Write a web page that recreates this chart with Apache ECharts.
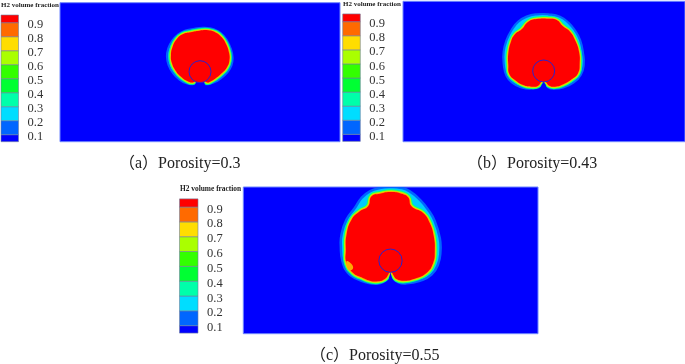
<!DOCTYPE html>
<html><head><meta charset="utf-8">
<style>html,body{margin:0;background:#fff}#main{width:685px;height:364px;filter:blur(0.6px)}</style>
<script src="https://cdn.jsdelivr.net/npm/echarts@6/dist/echarts.min.js"></script>
</head><body><div id="main"></div>
<script>
// colour bar
const tickLabels = [0.1,0.2,0.3,0.4,0.5,0.6,0.7,0.8,0.9];
const bandLow  = [0.05,0.1,0.2,0.3,0.4,0.5,0.6,0.7,0.8,0.9];
const bandHigh = [0.1,0.2,0.3,0.4,0.5,0.6,0.7,0.8,0.9,0.955];
const bandColors = ['#0000ff','#0066ff','#00ddff','#00ffaa','#00ff33','#33ff00','#aaff00','#ffdd00','#ff6a00','#ff0000'];

// H2 front outlines (domain units)
const redA = [[600,240],[590,238],[580,247],[562,243],[543,230],[527,212],[516,190],[513,165],[518,140],[530,118],[548,103],[572,97],[598,92],[625,91],[648,98],[665,112],[678,132],[687,158],[688,182],[680,203],[665,220],[648,234],[630,245],[620,247],[610,238]];
const outerA = [[578,252],[558,249],[538,238],[520,220],[506,195],[501,170],[505,145],[517,122],[535,103],[555,92],[580,87],[600,84],[630,85],[652,93],[671,108],[686,132],[696,160],[697,185],[689,207],[671,228],[650,243],[630,251],[615,252],[607,245],[600,245],[592,245]];
const notchA = [[585,256],[615,256],[612,246],[600,242],[588,246]];
const redB = [[611,238],[603,247],[593,258],[575,260],[550,255],[525,240],[508,222],[505,195],[505,160],[513,125],[525,103],[545,88],[565,65],[590,57],[625,56],[650,60],[668,78],[690,95],[705,120],[717,155],[719,190],[714,220],[695,238],[670,253],[645,260],[628,257],[618,247]];
const outerB = [[606,250],[590,262],[570,266],[545,262],[520,250],[500,228],[491,190],[491,155],[500,120],[515,90],[535,65],[560,50],[590,43],[625,43],[660,50],[685,68],[705,92],[720,120],[729,160],[731,195],[722,225],[700,248],[670,262],[640,266],[625,262],[616,250],[611,245]];
const notchB = [[601,270],[621,270],[617,254],[611,245],[605,254]];
const redC = [[662,278],[655,290],[645,303],[625,310],[600,308],[575,298],[550,285],[530,255],[528,215],[530,170],[545,125],[570,100],[595,85],[605,55],[630,47],[665,42],[695,47],[715,58],[725,85],[760,105],[780,135],[792,175],[795,220],[790,255],[770,285],[735,302],[700,308],[680,303],[670,290]];
const outerC = [[655,295],[640,312],[620,317],[590,313],[560,302],[535,285],[518,250],[513,205],[515,170],[530,125],[555,90],[575,60],[600,40],[630,30],[662,27],[695,30],[720,40],[750,65],[775,95],[795,130],[810,180],[812,220],[805,258],[785,290],[750,308],[710,316],[685,312],[668,295],[662,288]];
const notchC = [[655,318],[670,318],[666,298],[662,283],[658,298]];
const patchC = [[530,250],[545,258],[549,272],[536,276]];
const circleA = [600,215,33], circleB = [611,213,33], circleC = [662,248,35];

const captions = ['（a）Porosity=0.3','（b）Porosity=0.43','（c）Porosity=0.55'];
const legendTitle = 'H2 volume fraction';

const panels = [
 {red:redA,outer:outerA,notch:notchA,circle:circleA,rect:[60,2.7,280,139],dom:[180,1020,8,425],leg:[1,8.7,17.5,140],title:[1,2],cap:[119,156],ts:7,k:1},
 {red:redB,outer:outerB,notch:notchB,circle:circleB,rect:[403,1.3,282,140.4],dom:[189,1035,4,425],leg:[342.7,7.6,17.6,140.8],title:[343,0.5],cap:[467,156],ts:7,k:1},
 {red:redC,outer:outerC,notch:notchC,patch:patchC,circle:circleC,rect:[243.3,187,294.7,146.7],dom:[220,1105,27,467],leg:[179.5,192.2,18.5,148.3],title:[180,185.5],cap:[310,348],ts:7.4,k:1.15}
];

const grid=[],xAxis=[],yAxis=[],series=[],title=[];
const serif="'Liberation Serif','Noto Sans CJK SC',serif";
panels.forEach((p,i)=>{
  grid.push({left:p.rect[0],top:p.rect[1],width:p.rect[2],height:p.rect[3],show:true,backgroundColor:'#0000ff',borderColor:'#6f86ff',borderWidth:1});
  xAxis.push({gridIndex:i*2,type:'value',min:p.dom[0],max:p.dom[1],show:false});
  yAxis.push({gridIndex:i*2,type:'value',min:p.dom[2],max:p.dom[3],inverse:true,show:false});
  grid.push({left:p.leg[0],top:p.leg[1],width:p.leg[2],height:p.leg[3],show:false});
  xAxis.push({gridIndex:i*2+1,type:'value',min:0,max:1,show:false});
  yAxis.push({gridIndex:i*2+1,type:'value',min:0,max:1,interval:0.1,position:'right',
    axisLine:{show:false},axisTick:{show:false},splitLine:{show:false},
    axisLabel:{margin:9,fontFamily:serif,fontSize:12.5,color:'#333',verticalAlign:'top',lineHeight:4.6,
      formatter:v=>{const t=tickLabels.find(x=>Math.abs(x-v)<1e-6);return t===undefined?'':t.toFixed(1);}}});
  const poly=(pts,api,style,smooth)=>({type:'polygon',shape:{points:pts.map(q=>api.coord(q)),smooth:smooth===undefined?0.5:smooth},style});
  series.push({type:'custom',xAxisIndex:i*2,yAxisIndex:i*2,coordinateSystem:'cartesian2d',clip:true,silent:true,
    data:[p.circle],
    renderItem:(params,api)=>{
      const k=p.k, c=api.coord([api.value(0),api.value(1)]), r=api.size([api.value(2),0])[0];
      const kids=[
        poly(p.outer,api,{fill:'#00ccff',stroke:'#0066ff',lineWidth:2.2*k,lineJoin:'round'}),
        poly(p.red,api,{fill:'none',stroke:'#00ff88',lineWidth:4.8*k,lineJoin:'round'}),
        poly(p.red,api,{fill:'none',stroke:'#aaff00',lineWidth:3.0*k,lineJoin:'round'}),
        poly(p.red,api,{fill:'none',stroke:'#ffaa00',lineWidth:1.6*k,lineJoin:'round'}),
        poly(p.red,api,{fill:'#ff0000',stroke:null})];
      if(p.patch) kids.push(poly(p.patch,api,{fill:'#ffaa00',stroke:null}));
      kids.push(poly(p.notch,api,{fill:'#0000ff',stroke:null},0));
      kids.push({type:'circle',shape:{cx:c[0],cy:c[1],r},style:{fill:'#ff0000',stroke:'#2a22cc',lineWidth:1}});
      return {type:'group',children:kids};
    }});
  series.push({type:'custom',xAxisIndex:i*2+1,yAxisIndex:i*2+1,coordinateSystem:'cartesian2d',clip:false,silent:true,
    data:bandLow.map((lo,j)=>[lo,bandHigh[j],j]),
    renderItem:(params,api)=>{
      const a=api.coord([0,api.value(1)]),b=api.coord([1,api.value(0)]);
      return {type:'rect',shape:{x:a[0],y:a[1],width:b[0]-a[0],height:b[1]-a[1]},
        style:{fill:bandColors[api.value(2)],stroke:'#6f7f9f',lineWidth:0.6}};
    }});
  title.push({text:legendTitle,left:p.title[0],top:p.title[1],padding:0,textStyle:{fontFamily:serif,fontWeight:'bold',fontSize:p.ts,color:'#222'}});
  title.push({text:captions[i],left:p.cap[0],top:p.cap[1],padding:0,textStyle:{fontFamily:serif,fontWeight:'normal',fontSize:16,color:'#222'}});
});
const chart=echarts.init(document.getElementById('main'),null,{renderer:'canvas'});
chart.setOption({animation:false,backgroundColor:'#fff',title,grid,xAxis,yAxis,series});
</script></body></html>
